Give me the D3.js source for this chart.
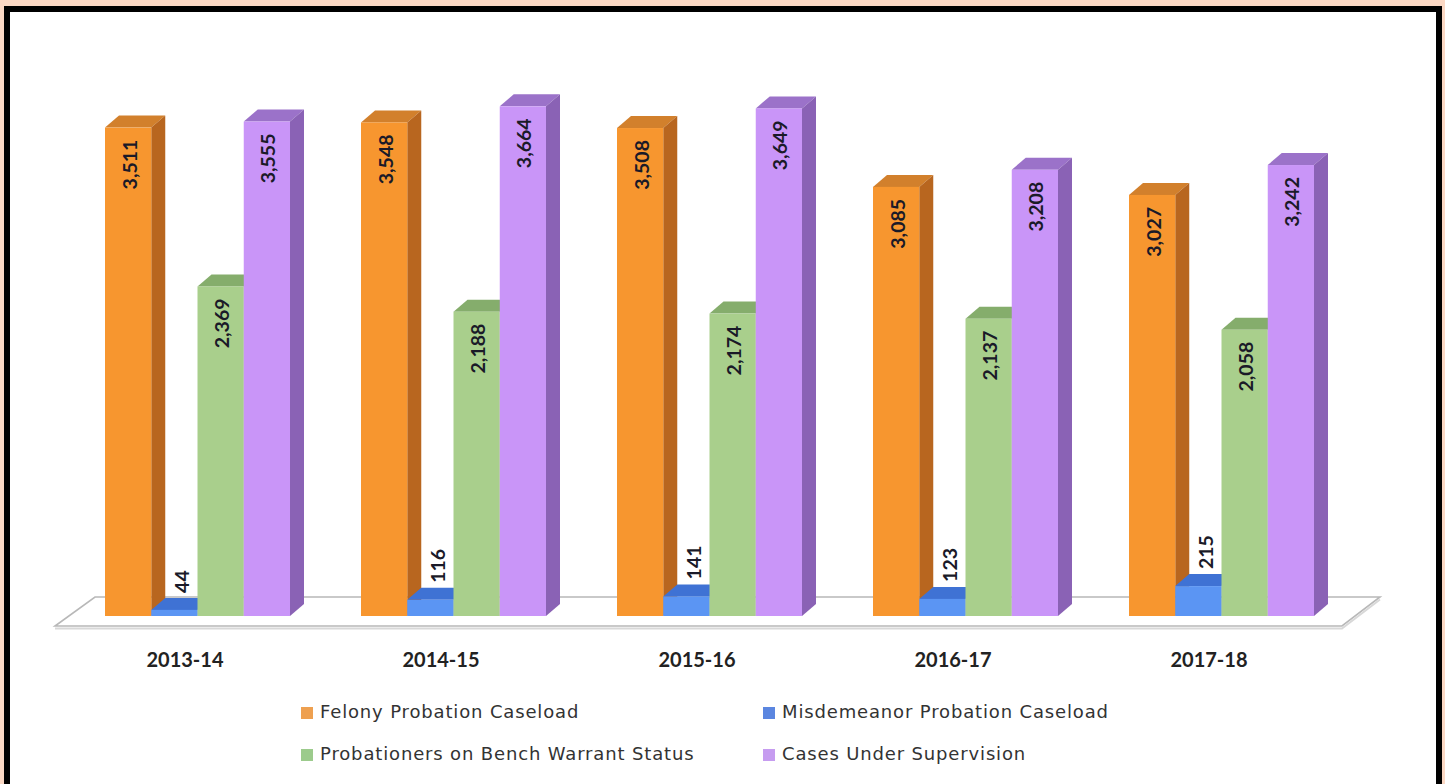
<!DOCTYPE html>
<html>
<head>
<meta charset="utf-8">
<script src="https://cdn.jsdelivr.net/npm/d3@7"></script>
<style>
  html, body { margin: 0; padding: 0; background: #fbd8c4; }
  svg { display: block; }
</style>
</head>
<body>
<svg id="chart" width="1445" height="784"></svg>
<script>
const categories = ["2013-14", "2014-15", "2015-16", "2016-17", "2017-18"];
const seriesNames = ["Felony Probation Caseload", "Misdemeanor Probation Caseload",
                     "Probationers on Bench Warrant Status", "Cases Under Supervision"];
const felony = [3511, 3548, 3508, 3085, 3027];
const misdemeanor = [44, 116, 141, 123, 215];
const benchWarrant = [2369, 2188, 2174, 2137, 2058];
const underSupervision = [3555, 3664, 3649, 3208, 3242];
const seriesValues = [felony, misdemeanor, benchWarrant, underSupervision];

const frontColors = ["#f7962f", "#5b95f3", "#a9cf8c", "#c995f8"];
const sideColors  = ["#b8661f", "#3c6dcc", "#7fa866", "#8a62b5"];
const topColors   = ["#d2802c", "#3f72d4", "#85ad6c", "#9b72c9"];
const legendColors = ["#eea050", "#5b86e0", "#9ccb8c", "#c69cf0"];

const svg = d3.select("#chart");

// background panel
svg.append("rect").attr("x", 0).attr("y", 0).attr("width", 1445).attr("height", 784).attr("fill", "#fbd8c4");
svg.append("rect").attr("x", 7).attr("y", 9).attr("width", 1432).attr("height", 800)
   .attr("fill", "#ffffff").attr("stroke", "#000").attr("stroke-width", 6);

const dx = 14, dy = -12;
const baseY = 616;

const x0 = d3.scaleBand().domain(categories).range([69, 69 + 256 * categories.length]);
const x1 = d3.scaleBand().domain(seriesNames).range([36, 221]);
const y = d3.scaleLinear().domain([0, 4000]).range([baseY, baseY - 4000 * 0.1391]);

// floor
const floor = svg.append("g");
floor.append("path")
  .attr("d", "M55,626 L1342,626 L1380,597 L95,597 Z")
  .attr("fill", "#ffffff").attr("stroke", "#b8b8b8").attr("stroke-width", 1.6);
floor.append("path")
  .attr("d", "M55,628.5 L1342,628.5 L1380,599.5")
  .attr("fill", "none").attr("stroke", "#d8d8d8").attr("stroke-width", 2);

const bars = svg.append("g");
const labels = svg.append("g");
const fmt = d3.format(",");

categories.forEach((cat, ci) => {
  seriesNames.forEach((s, si) => {
    const v = seriesValues[si][ci];
    const xl = x0(cat) + x1(s);
    const xr = xl + x1.bandwidth();
    const yt = y(v);
    const g = bars.append("g");
    // top face
    g.append("path")
      .attr("d", `M${xl},${yt} L${xl + dx},${yt + dy} L${xr + dx},${yt + dy} L${xr},${yt} Z`)
      .attr("fill", topColors[si]);
    // side face
    g.append("path")
      .attr("d", `M${xr},${yt} L${xr + dx},${yt + dy} L${xr + dx},${baseY + dy} L${xr},${baseY} Z`)
      .attr("fill", sideColors[si]);
    // front face
    g.append("rect")
      .attr("x", xl).attr("y", yt).attr("width", x1.bandwidth()).attr("height", baseY - yt)
      .attr("fill", frontColors[si]);

    const cx = xl + x1.bandwidth() / 2;
    const inside = (baseY - yt) > 80;
    const lx = inside ? cx + 1 : cx + 7;
    const ly = inside ? yt + 12 : yt - 17;
    labels.append("text")
      .attr("transform", `translate(${lx},${ly}) rotate(-90)`)
      .attr("text-anchor", inside ? "end" : "start")
      .attr("dominant-baseline", "central")
      .attr("font-family", "Lato, 'Open Sans', sans-serif")
      .attr("font-weight", "bold")
      .attr("font-size", 19.5)
      .attr("fill", "#1a1a28")
      .text(fmt(v));
  });
  // category label
  svg.append("text")
    .attr("x", x0(cat) + x0.bandwidth() / 2 - 12)
    .attr("y", 667)
    .attr("text-anchor", "middle")
    .attr("font-family", "Lato, 'Open Sans', sans-serif")
    .attr("font-weight", "bold")
    .attr("font-size", 20)
    .attr("fill", "#222")
    .text(cat);
});

// legend
const legendPos = [[301, 707], [763, 707], [301, 749], [763, 749]];
const legend = svg.append("g");
seriesNames.forEach((s, i) => {
  const [lx, ly] = legendPos[i];
  legend.append("rect").attr("x", lx).attr("y", ly).attr("width", 12).attr("height", 12)
    .attr("fill", legendColors[i]);
  legend.append("text")
    .attr("x", lx + 19).attr("y", ly + 11)
    .attr("font-family", "'DejaVu Sans', sans-serif")
    .attr("font-size", 18)
    .attr("letter-spacing", 0.85)
    .attr("fill", "#333")
    .text(s);
});
</script>
</body>
</html>
